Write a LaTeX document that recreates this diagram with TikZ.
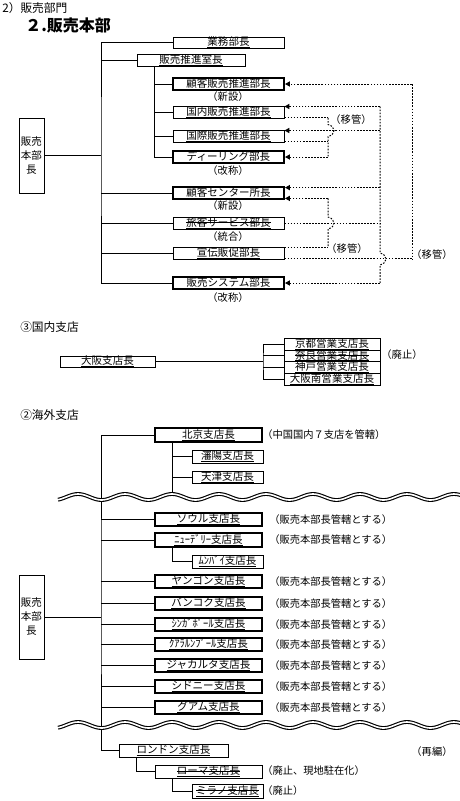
\documentclass[tikz,border=0pt]{standalone}
\usepackage{fontspec}
\setmainfont{Noto Sans CJK JP}
\usetikzlibrary{arrows.meta,calc}
\newsavebox\tbox
\newcommand\ULine[1]{\sbox\tbox{#1}\rlap{\usebox\tbox}\rule[-1.3pt]{\wd\tbox}{0.45pt}}
\newcommand\SLine[1]{\sbox\tbox{#1}\rlap{\usebox\tbox}\rule[2.8pt]{\wd\tbox}{0.45pt}}
\newcommand\mybox[7][]{\node[box,#1,minimum width={(#5-#3)*0.75pt},minimum height={(#6-#4)*0.75pt}] (#2) at ({(#3+#5)/2},{(#4+#6)/2}) {#7};}
\newcommand\mywave[1]{%
  \draw[line width=2.9pt,domain=58:462,samples=200,smooth,variable=\x] plot (\x,{#1-3*cos((\x-78)/47*360)});
  \draw[white,line width=1.2pt,domain=56:464,samples=200,smooth,variable=\x] plot (\x,{#1-3*cos((\x-78)/47*360)});}
\tikzset{
  box/.style={draw,line width=0.75pt,inner sep=0pt,font=\fontsize{7.9pt}{9pt}\selectfont,text height=6.6pt,text depth=1.4pt},
  thickbox/.style={line width=1.5pt},
  hqbox/.style={draw,line width=0.75pt,inner sep=0pt,align=center,font=\fontsize{7.9pt}{10.5pt}\selectfont},
  conn/.style={line width=0.75pt},
  dotl/.style={line width=0.75pt,dash pattern=on 1.2pt off 1.1pt},
  arr/.style={-{Triangle[length=3.6pt,width=3.8pt]}},
  lbl/.style={font=\fontsize{7.7pt}{9pt}\selectfont,inner sep=0pt},
  head/.style={font=\fontsize{8.8pt}{10pt}\selectfont,inner sep=0pt,anchor=west},
}
\begin{document}
\begin{tikzpicture}[x=0.75pt,y=-0.75pt]
\fill[white] (0,0) rectangle (460,801);
\useasboundingbox (0,0) rectangle (460,801);

% ---------- headings ----------
\node[head] (h1) at (2,8) {2）販売部門};
\node[inner sep=0pt,anchor=west,font=\fontsize{12pt}{14pt}\selectfont\bfseries] (h2) at (25,25) {２.販売本部};

% ---------- top section ----------
\node[hqbox,minimum width={25*0.75pt},minimum height={75*0.75pt}] (hq) at (31.5,155.5) {販売\\本部\\長};
\mybox{gyomu}{173}{37}{284}{48}{\ULine{業務部長}}
\mybox{suishin}{137}{54}{245}{66}{\ULine{販売推進室長}}
\mybox[thickbox]{kokyaku}{173}{78}{284}{90}{\ULine{顧客販売推進部長}}
\mybox{kokunai}{173}{106}{284}{118}{\ULine{国内販売推進部長}}
\mybox{kokusai}{173}{130}{284}{142}{\ULine{国際販売推進部長}}
\mybox[thickbox]{dealing}{173}{151}{284}{163}{\ULine{ディーリング部長}}
\mybox[thickbox]{center}{173}{187}{284}{199}{\ULine{顧客センター所長}}
\mybox{ryokaku}{173}{217}{284}{229}{\ULine{\SLine{旅客サービス部長}}}
\mybox{senden}{173}{247}{284}{259}{\ULine{宣伝販促部長}}
\mybox[thickbox]{system}{173}{277}{284}{289}{\ULine{販売システム部長}}

\node[lbl] (l1) at (228,97) {（新設）};
\node[lbl] (l2) at (228,171) {（改称）};
\node[lbl] (l3) at (228,206) {（新設）};
\node[lbl] (l4) at (228,237) {（統合）};
\node[lbl] (l5) at (228,298) {（改称）};
\node[lbl] (m1) at (351,120) {（移管）};
\node[lbl] (m2) at (347,249) {（移管）};
\node[lbl] (m3) at (432,255) {（移管）};

% solid tree
\coordinate (trunk1) at (101,150);
\draw[conn] (gyomu.west) -| (trunk1) |- (system.west);
\draw[conn] (hq.east) -- (hq.east -| trunk1);
\draw[conn] (suishin.west -| trunk1) -- (suishin.west);
\draw[conn] (center.west -| trunk1) -- (center.west);
\draw[conn] (ryokaku.west -| trunk1) -- (ryokaku.west);
\draw[conn] (senden.west -| trunk1) -- (senden.west);
\coordinate (st) at ([xshift=13.5pt]suishin.south west);
\draw[conn] (st) |- (dealing.west);
\draw[conn] (kokyaku.west -| st) -- (kokyaku.west);
\draw[conn] (kokunai.west -| st) -- (kokunai.west);
\draw[conn] (kokusai.west -| st) -- (kokusai.west);

% dotted transfers
\coordinate (colA) at (412,0);
\coordinate (colB) at (380,0);
\coordinate (colC) at (328,0);
\coordinate (kokunaiT) at ([yshift=-0.75pt]kokunai.north east);
\coordinate (kokunaiB) at ([yshift=0.4pt]kokunai.south east);
\coordinate (kokusaiT) at ([yshift=-0.75pt]kokusai.north east);
\coordinate (kokusaiB) at ([yshift=0.4pt]kokusai.south east);
\coordinate (centerT) at ([yshift=-1.2pt]center.north east);
\coordinate (centerB) at ([yshift=1.2pt]center.south east);
\coordinate (sendenT) at ([yshift=-0.4pt]senden.north east);
\coordinate (sendenB) at ([yshift=0.4pt]senden.south east);

\draw[dotl] (kokyaku.east -| colA) -- (sendenB -| colA);
\draw[dotl] (kokunaiT -| colB) -- ($(sendenB -| colB)+(0,-6)$) .. controls +(8,2) and +(8,-2) .. ($(sendenB -| colB)+(0,6)$) -- (system.east -| colB);
\draw[dotl] (kokunaiB -| colC) -- ($(kokusaiT -| colC)+(0,-6)$) .. controls +(8,2) and +(8,-2) .. ($(kokusaiT -| colC)+(0,6)$) -- (dealing.east -| colC);
\draw[dotl] (centerB -| colC) -- ($(ryokaku.east -| colC)+(0,-6)$) .. controls +(8,2) and +(8,-2) .. ($(ryokaku.east -| colC)+(0,6)$) -- (sendenT -| colC);

\draw[dotl,arr] (kokyaku.east -| colA) -- (kokyaku.east);
\draw[dotl] (sendenB) -- (sendenB -| colA);
\draw[dotl,arr] (kokunaiT -| colB) -- (kokunaiT);
\draw[dotl,arr] (kokusaiT -| colB) -- (kokusaiT);
\draw[dotl,arr] (centerT -| colB) -- (centerT);
\draw[dotl] (ryokaku.east) -- (ryokaku.east -| colB);
\draw[dotl,arr] (system.east -| colB) -- (system.east);
\draw[dotl] (kokunaiB) -- (kokunaiB -| colC);
\draw[dotl] (kokusaiB) -- (kokusaiB -| colC);
\draw[dotl,arr] (dealing.east -| colC) -- (dealing.east);
\draw[dotl,arr] (centerB -| colC) -- (centerB);
\draw[dotl] (sendenT) -- (sendenT -| colC);

% ---------- domestic branches ----------
\node[head] (h3) at (20,327) {③国内支店};
\mybox{osaka}{60}{356}{155}{367}{\ULine{大阪支店長}}
\mybox{kyoto}{284}{338}{380}{350}{\ULine{京都営業支店長}}
\mybox{nara}{284}{350}{380}{361.5}{\ULine{\SLine{奈良営業支店長}}}
\mybox{kobe}{284}{361.5}{380}{373.5}{\ULine{神戸営業支店長}}
\mybox{minami}{284}{373.5}{380}{385}{\ULine{大阪南営業支店長}}
\node[lbl] (l6) at (402,355) {（廃止）};
\coordinate (osk) at (263,361);
\draw[conn] (osaka.east) -- (osaka.east -| osk);
\draw[conn] (kyoto.west) -| (osk) |- (minami.west);
\draw[conn] (nara.west -| osk) -- (nara.west);
\draw[conn] (kobe.west -| osk) -- (kobe.west);

% ---------- overseas branches ----------
\node[head] (h4) at (20,415) {②海外支店};
\mybox[thickbox]{beijing}{155}{428}{262}{442}{\ULine{北京支店長}}
\node[lbl,anchor=west] (l7) at (262,435) {（中国国内７支店を管轄）};
\mybox{shenyang}{192}{450}{263}{463}{\ULine{瀋陽支店長}}
\mybox{tianjin}{192}{471}{263}{483}{\ULine{天津支店長}}
\mybox[thickbox]{seoul}{155}{513}{262}{526}{\ULine{ソウル支店長}}
\mybox[thickbox]{delhi}{155}{533}{262}{547}{\ULine{ﾆｭｰﾃﾞﾘｰ支店長}}
\mybox{mumbai}{192}{555}{263}{568}{\ULine{ﾑﾝﾊﾞｲ支店長}}
\mybox[thickbox]{yangon}{155}{575}{262}{588}{\ULine{ヤンゴン支店長}}
\mybox[thickbox]{bangkok}{155}{597}{262}{610}{\ULine{バンコク支店長}}
\mybox[thickbox]{singapore}{155}{618}{262}{631}{\ULine{ｼﾝｶﾞﾎﾟｰﾙ支店長}}
\mybox[thickbox]{kl}{155}{638}{262}{651}{\ULine{ｸｱﾗﾙﾝﾌﾟｰﾙ支店長}}
\mybox[thickbox]{jakarta}{155}{659}{262}{672}{\ULine{ジャカルタ支店長}}
\mybox[thickbox]{sydney}{155}{680}{262}{693}{\ULine{シドニー支店長}}
\mybox[thickbox]{guam}{155}{701}{262}{714}{\ULine{グアム支店長}}
\node[hqbox,minimum width={25*0.75pt},minimum height={84*0.75pt}] (hq2) at (31.5,617) {販売\\本部\\長};
\mybox{london}{119}{744}{228}{757}{\ULine{ロンドン支店長}}
\mybox{roma}{155}{765}{262}{778}{\ULine{\SLine{ローマ支店長}}}
\mybox{milano}{192}{784}{263}{798}{\ULine{\SLine{ミラノ支店長}}}

\foreach \n in {seoul,delhi,yangon,bangkok,singapore,kl,jakarta,sydney,guam}{
  \node[lbl,anchor=west] (r\n) at ([xshift=4.5pt]\n.east) {（販売本部長管轄とする）};
}
\node[lbl] (l8) at (432,752) {（再編）};
\node[lbl,anchor=west] (l9) at (262,771) {（廃止、現地駐在化）};
\node[lbl,anchor=west] (l10) at (262,791) {（廃止）};

\coordinate (trunk2) at (101,600);
\draw[conn] (beijing.west) -| (trunk2) |- (london.west);
\draw[conn] (hq2.east) -- (hq2.east -| trunk2);
\foreach \n in {seoul,delhi,yangon,bangkok,singapore,kl,jakarta,sydney,guam}{
  \draw[conn] (\n.west -| trunk2) -- (\n.west);
}
\coordinate (bjt) at ([xshift=13.5pt]beijing.south west);
\coordinate (wv1) at (173,494);
\draw[conn] (bjt) -- (bjt |- wv1);
\draw[conn] (shenyang.west -| bjt) -- (shenyang.west);
\draw[conn] (tianjin.west -| bjt) -- (tianjin.west);
\draw[conn] ([xshift=13.5pt]delhi.south west) |- (mumbai.west);
\draw[conn] ([xshift=13.5pt]london.south west) |- (roma.west);
\draw[conn] ([xshift=13.5pt]roma.south west) |- (milano.west);

\mywave{497}
\mywave{725}
\end{tikzpicture}
\end{document}
